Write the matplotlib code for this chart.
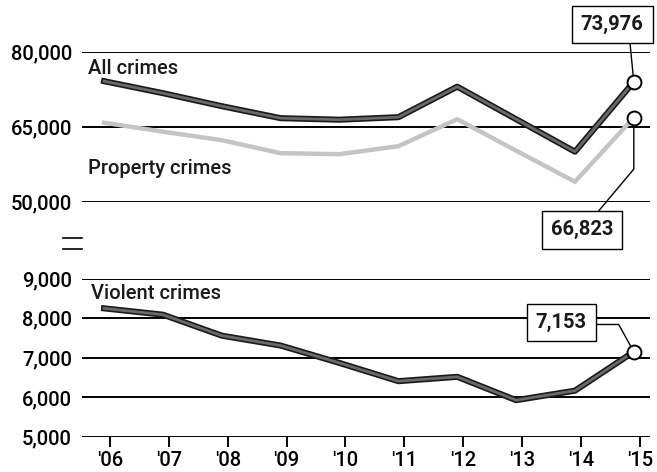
import matplotlib
matplotlib.use("Agg")
import matplotlib.pyplot as plt
import matplotlib.patheffects as pe
from matplotlib.lines import Line2D

plt.rcParams['font.family'] = ['Roboto', 'DejaVu Sans']
plt.rcParams['font.weight'] = 'medium'
plt.rcParams['text.color'] = '#1a1a1a'

years = [2006, 2007, 2008, 2009, 2010, 2011, 2012, 2013, 2014, 2015]
year_labels = ["'06", "'07", "'08", "'09", "'10", "'11", "'12", "'13", "'14", "'15"]
all_crimes = [74100, 71700, 69100, 66700, 66400, 66900, 73000, 66500, 60000, 73976]
property_crimes = [65800, 64000, 62300, 59700, 59500, 61100, 66500, 60200, 54000, 66823]
violent_crimes = [8250, 8090, 7560, 7310, 6870, 6410, 6520, 5930, 6170, 7153]
top_ticks = [50000, 65000, 80000]
bottom_ticks = [5000, 6000, 7000, 8000, 9000]

FS = 14.5
xs = [y - 0.1 for y in years]
dark = [pe.Stroke(linewidth=4.4, foreground='#1a1a1a'), pe.Normal()]

fig = plt.figure(figsize=(6.57, 4.72), dpi=100)
ax1 = fig.add_axes([0.1244, 0.5727, 0.8645, 0.3178])
ax2 = fig.add_axes([0.1244, 0.0742, 0.8645, 0.3354])

for ax, ticks in ((ax1, top_ticks), (ax2, bottom_ticks)):
    ax.set_xlim(2005.52, 2015.17)
    ax.set_ylim(ticks[0], ticks[-1])
    ax.set_yticks(ticks)
    ax.set_yticklabels([f"{t:,}" for t in ticks])
    ax.grid(axis='y', color='black', lw=1.4)
    ax.set_axisbelow(True)
    for s in ax.spines.values():
        s.set_visible(False)
    ax.tick_params(axis='y', length=0, pad=7, labelsize=FS)

ax1.set_xticks([])
ax2.set_xticks(years)
ax2.set_xticklabels(year_labels)
ax2.tick_params(axis='x', length=7, width=1.4, pad=3, labelsize=FS, color='black')

# top panel
ax1.plot(xs, property_crimes, color='#c4c4c4', lw=3.2, solid_joinstyle='miter')
ax1.plot(xs, all_crimes, color='#6a6a6a', lw=2.0, path_effects=dark)
ax1.plot(xs[-1], all_crimes[-1], 'o', ms=10, mfc='white', mec='black', mew=1.4, zorder=5)
ax1.plot(xs[-1], property_crimes[-1], 'o', ms=10, mfc='white', mec='black', mew=1.4, zorder=5)
ax1.text(2005.63, 76700, "All crimes", fontsize=FS, va='center')
ax1.text(2005.63, 56700, "Property crimes", fontsize=FS, va='center')

box = dict(boxstyle='square,pad=0.45', fc='white', ec='black', lw=1)
ax1.annotate(f"{all_crimes[-1]:,}", xy=(xs[-1], all_crimes[-1]), xytext=(-15.6, 41.3),
             textcoords='offset points', ha='center', va='center', fontsize=FS,
             fontweight='bold', bbox=box, zorder=4,
             arrowprops=dict(arrowstyle='-', color='black', lw=1, relpos=(0.77, 0),
                             shrinkA=0, shrinkB=5))
ax1.annotate(f"{property_crimes[-1]:,}", xy=(xs[-1], property_crimes[-1]), xytext=(-37.3, -80.9),
             textcoords='offset points', ha='center', va='center', fontsize=FS,
             fontweight='bold', bbox=box, zorder=4, annotation_clip=False,
             arrowprops=dict(arrowstyle='-', color='black', lw=1, relpos=(0.64, 1),
                             shrinkA=0, shrinkB=5,
                             connectionstyle="angle,angleA=50,angleB=90,rad=0"))

# bottom panel
ax2.plot(xs, violent_crimes, color='#6a6a6a', lw=2.0, path_effects=dark)
ax2.plot(xs[-1], violent_crimes[-1], 'o', ms=10, mfc='white', mec='black', mew=1.4, zorder=5)
ax2.text(2005.68, 8616, "Violent crimes", fontsize=FS, va='center')
ax2.annotate(f"{violent_crimes[-1]:,}", xy=(xs[-1], violent_crimes[-1]), xytext=(-52.3, 21.3),
             textcoords='offset points', ha='center', va='center', fontsize=FS,
             fontweight='bold', bbox=box, zorder=4,
             arrowprops=dict(arrowstyle='-', color='black', lw=1, relpos=(1, 0.38),
                             shrinkA=0, shrinkB=5,
                             connectionstyle="angle,angleA=0,angleB=119,rad=0"))

# axis break mark
for yp in (238, 249):
    fig.add_artist(Line2D([63 / 657, 82 / 657], [1 - yp / 472] * 2, color='black', lw=1.2))

fig.savefig("out.png", dpi=100)
